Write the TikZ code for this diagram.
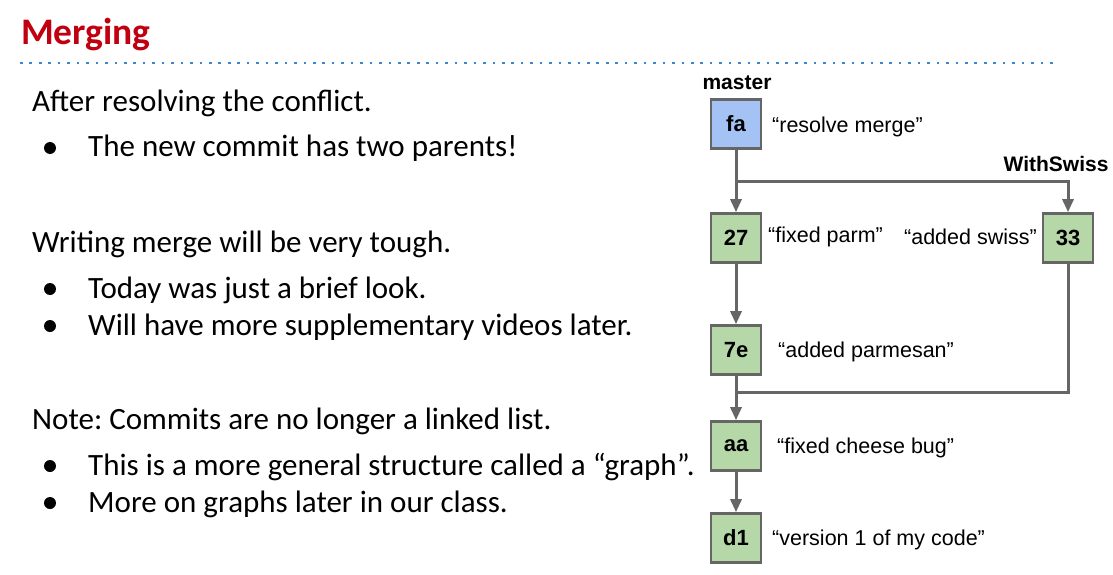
\documentclass[tikz,border=0pt]{standalone}
\usepackage{fontspec}
\setmainfont{Carlito}
\newfontfamily\diagfont{Liberation Sans}
\usetikzlibrary{arrows.meta}
\definecolor{titlered}{RGB}{192,0,16}
\definecolor{rulerblue}{RGB}{61,133,206}
\definecolor{edgegray}{RGB}{102,102,102}
\definecolor{headblue}{RGB}{164,194,244}
\definecolor{commitgreen}{RGB}{182,215,168}
\frenchspacing
\tikzset{
  body/.style={anchor=base west, inner sep=0pt, font=\fontsize{31}{36}\selectfont},
  commit/.style={draw=edgegray, line width=2.6pt, fill=commitgreen, minimum width=50pt,
    minimum height=49pt, inner sep=0pt, font=\diagfont\bfseries\fontsize{22}{26}\selectfont},
  headcommit/.style={commit, fill=headblue},
  msg/.style={anchor=west, inner sep=0pt, font=\diagfont\fontsize{21.5}{25}\selectfont},
  branchname/.style={inner sep=0pt, font=\diagfont\bfseries\fontsize{21}{25}\selectfont},
  link/.style={draw=edgegray, line width=3pt, -{Triangle[length=13pt,width=11pt]}},
  plainlink/.style={draw=edgegray, line width=3pt}
}
\begin{document}
\begin{tikzpicture}[x=1pt,y=-1pt]
\useasboundingbox (0,0) rectangle (1113,575);

% heading and dotted rule
\node[anchor=base west, inner sep=0pt, text=titlered,
  font=\bfseries\fontsize{37.5}{42}\selectfont] (title) at (21,45) {Merging};
\draw[rulerblue, line width=2.8pt, dash pattern=on 2.6pt off 6.85pt]
  (20,63) -- (1056,63);

% left-hand notes
\node[body] (l1) at (32,112) {After resolving the conflict.};
\node[body] (l2) at (88,157) {The new commit has two parents!};
\node[body] (l3) at (32,252) {Writing merge will be very tough.};
\node[body] (l4) at (88,298) {Today was just a brief look.};
\node[body] (l5) at (88,335) {Will have more supplementary videos later.};
\node[body] (l6) at (32,429) {Note: Commits are no longer a linked list.};
\node[body] (l7) at (88,475) {This is a more general structure called a “graph”.};
\node[body] (l8) at (88,512) {More on graphs later in our class.};
\foreach \y in {148,289,326,466,503}
  \fill (50,\y) circle (6pt);

% commit graph
\node[headcommit] (fa) at (736,124) {fa};
\node[commit] (c27) at (736,238) {27};
\node[commit] (c33) at (1068,238) {33};
\node[commit] (c7e) at (736,350) {7e};
\node[commit] (aa) at (736,446) {aa};
\node[commit] (d1) at (736,538) {d1};

\node[branchname] (master) at (737,83) {master};
\node[branchname] (withswiss) at (1056,164) {WithSwiss};

\node[msg] (mfa) at (772,127) {“resolve merge”};
\node[msg] (m27) at (768,237) {“fixed parm”};
\node[msg, anchor=east] (m33) at (1037,237) {“added swiss”};
\node[msg] (m7e) at (778,352) {“added parmesan”};
\node[msg] (maa) at (777,448) {“fixed cheese bug”};
\node[msg] (md1) at (772,540) {“version 1 of my code”};

\coordinate (split) at (736,181);
\coordinate (join) at (736,392);

\draw[link] (fa) -- (c27);
\draw[link] (split) -| (c33);
\draw[link] (c27) -- (c7e);
\draw[link] (c7e) -- (aa);
\draw[plainlink] (c33) |- (join);
\draw[link] (aa) -- (d1);
\end{tikzpicture}
\end{document}
